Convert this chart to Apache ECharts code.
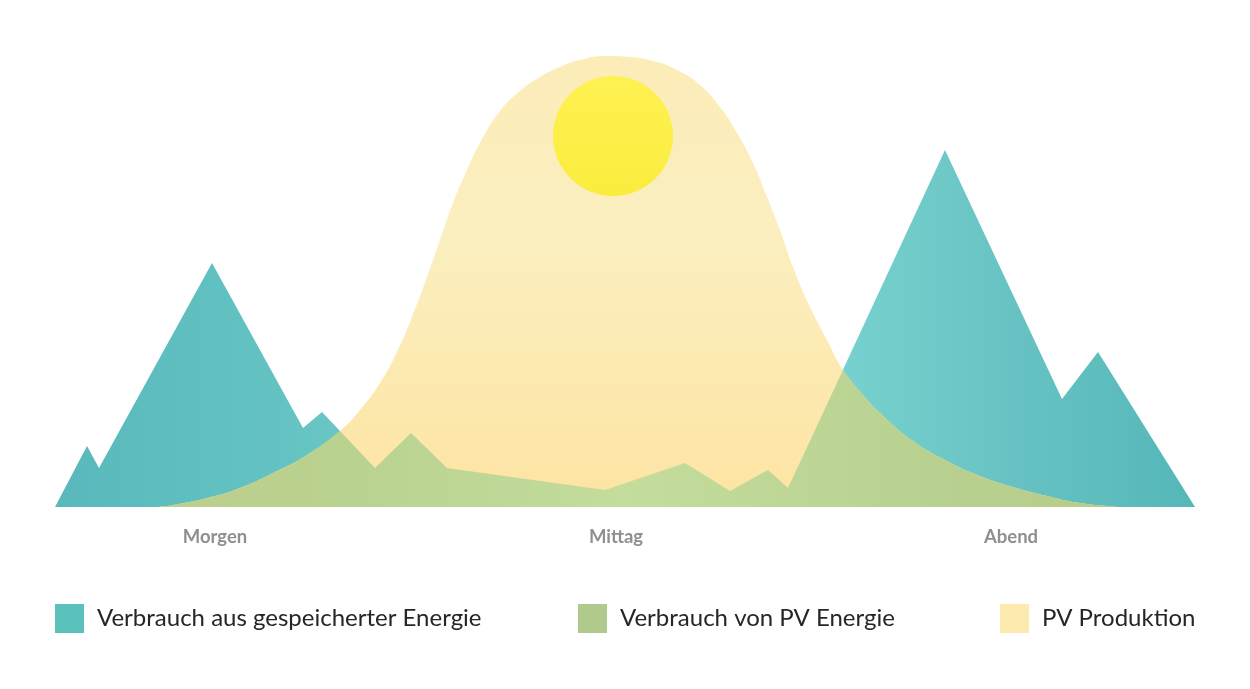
<!DOCTYPE html>
<html>
<head>
<meta charset="utf-8">
<style>html,body{margin:0;padding:0;background:#fff}#c{width:1250px;height:689px}</style>
<script src="https://cdn.jsdelivr.net/npm/echarts@6/dist/echarts.min.js"></script>
</head>
<body>
<div id="c"></div>
<script>
const timeLabels = ['Morgen', 'Mittag', 'Abend'];
const timeTicks = [160, 561, 956];
const seriesNames = ['Verbrauch aus gespeicherter Energie', 'Verbrauch von PV Energie', 'PV Produktion'];
const consumption = [[0,0],[32,61],[44,39],[157,244],[248,79],[267,95],[320,39],[356,74],[392,39],[550,17],[630,44],[675,16],[713,37],[733,19],[890,357],[1007,108],[1043,155],[1140,0]];
const pvProduction = [[102,0],[118,2],[152,9],[185,19],[218,34],[252,52],[285,76],[305,97],[325,124],[342,155],[357,190],[372,230],[385,267],[398,304],[412,337],[425,364],[445,396],[465,416],[485,430],[505,440],[525,447],[552,451],[575,450],[598,446],[622,437],[645,422],[665,400],[682,374],[698,344],[712,310],[725,277],[738,240],[755,200],[772,167],[788,137],[808,112],[825,94],[858,66],[892,46],[925,31],[958,20],[992,11],[1025,4],[1065,0]];
const pvMorning = [[102,0],[118,2],[152,9],[185,19],[218,34],[252,52],[285,76]];
const pvDirectUse = [[285,76],[320,39],[356,74],[392,39],[550,17],[630,44],[675,16],[713,37],[733,19],[788,137]];
const pvEvening = [[788,137],[808,112],[825,94],[858,66],[892,46],[925,31],[958,20],[992,11],[1025,4],[1065,0]];
const sunPosition = [[558, 371]];

const tealFill = new echarts.graphic.LinearGradient(0, 0, 1, 0, [
  {offset: 0, color: '#59b8bb'}, {offset: 0.2, color: '#64c3c2'}, {offset: 0.3, color: '#6fc9c8'},
  {offset: 0.7, color: '#76d0cd'}, {offset: 0.85, color: '#66c2c2'}, {offset: 1, color: '#55b7b8'}]);
const yellowFill = new echarts.graphic.LinearGradient(0, 0, 0, 1, [
  {offset: 0, color: '#fcecb8'}, {offset: 0.4, color: '#fbefc0'}, {offset: 1, color: '#fde4a2'}]);
const greenFill = new echarts.graphic.LinearGradient(55, 0, 1195, 0, [
  {offset: 0, color: '#bdcd8c'}, {offset: 0.25, color: '#bad28f'}, {offset: 0.5, color: '#c4dc9c'},
  {offset: 0.75, color: '#b9d191'}, {offset: 1, color: '#b5cb85'}], true);

const area = (name, data, legendColor, fill, z, smooth) => ({
  name, type: 'line', data, smooth, showSymbol: false, symbol: 'none', z, silent: true,
  lineStyle: {width: 0}, itemStyle: {color: legendColor},
  areaStyle: {color: fill, opacity: 1}
});
const legend = (name, left) => ({
  data: [name], left, top: 604, padding: 0, itemWidth: 29, itemHeight: 29, itemGap: 5, icon: 'rect',
  selectedMode: false,
  textStyle: {fontFamily: 'Lato', fontSize: 24, color: '#262626', padding: [4, 0, 0, 8]}
});

const chart = echarts.init(document.getElementById('c'), null, {renderer: 'canvas'});
chart.setOption({
  animation: false,
  backgroundColor: '#fff',
  grid: {left: 55, width: 1140, top: 7, height: 500, containLabel: false},
  xAxis: {
    type: 'value', min: 0, max: 1140, splitLine: {show: false},
    axisLine: {show: false}, axisTick: {show: false},
    axisLabel: {
      customValues: timeTicks, margin: 21,
      fontFamily: 'Lato', fontWeight: 'bold', fontSize: 18.5, color: '#8f8f8f',
      formatter: (v) => timeLabels[timeTicks.indexOf(v)] || ''
    }
  },
  yAxis: {type: 'value', min: 0, max: 500, show: false},
  legend: [legend(seriesNames[0], 55), legend(seriesNames[1], 578), legend(seriesNames[2], 1000)],
  series: [
    area(seriesNames[0], consumption, '#5bc1bd', tealFill, 2, false),
    area(seriesNames[2], pvProduction, '#fdeaaf', yellowFill, 3, 0.5),
    area(seriesNames[1], pvMorning, '#afca8c', greenFill, 4, 0.5),
    area(seriesNames[1], pvDirectUse, '#afca8c', greenFill, 4, false),
    area(seriesNames[1], pvEvening, '#afca8c', greenFill, 4, 0.5),
    {
      name: 'Sonne', type: 'scatter', data: sunPosition, symbol: 'circle', symbolSize: 120, z: 5, silent: true,
      itemStyle: {color: new echarts.graphic.LinearGradient(0, 0, 0, 1, [{offset: 0, color: '#fff338'}, {offset: 1, color: '#faec1e'}])}
    }
  ]
});
</script>
</body>
</html>
